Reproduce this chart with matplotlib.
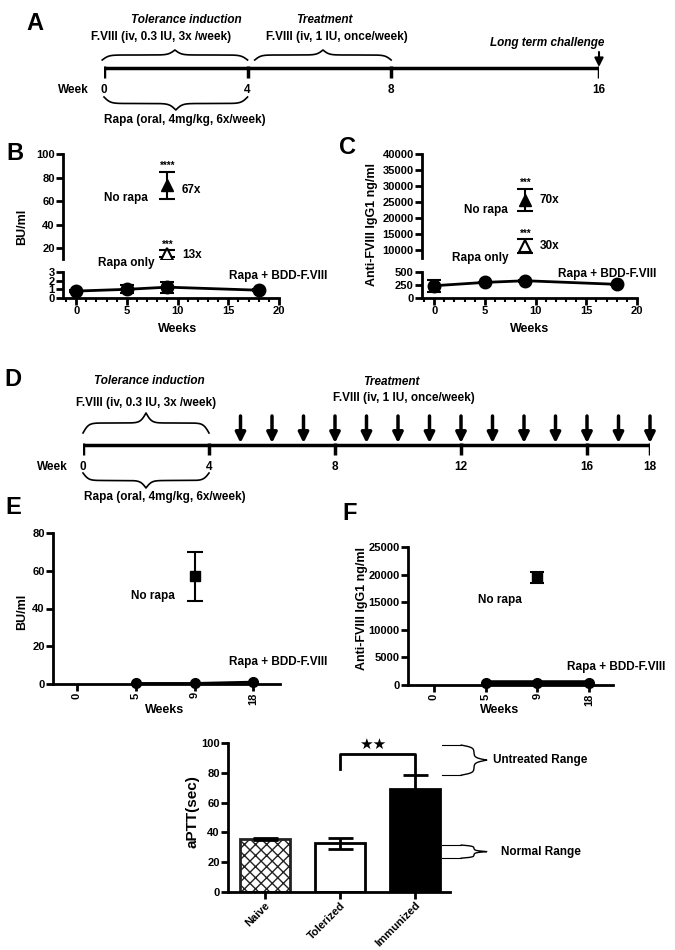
import numpy as np
import matplotlib.pyplot as plt
from matplotlib.ticker import MultipleLocator

W, H = 675, 950

# ---- data ----
# A: first protocol timeline (weeks)
a_ticks = [0, 4, 8, 16]
# D: second protocol timeline, weekly F.VIII doses from week 5
d_ticks = [0, 4, 8, 12, 16, 18]
d_doses = [5, 6, 7, 8, 9, 10, 11, 12, 13, 14, 15, 16, 17, 18]

# B: inhibitor titers (BU/ml)
b_weeks = [0, 5, 9, 18]
b_combo = [0.8, 1.0, 1.25, 0.9]
b_combo_err = [0.12, 0.45, 0.65, 0.1]
b_norapa, b_norapa_err = 73.5, 11.5
b_rapaonly, b_rapaonly_err = 15.5, 3.0

# C: anti-FVIII IgG1 (ng/ml)
c_weeks = [0, 5, 9, 18]
c_combo = [236, 300, 332, 263]
c_combo_err = [118, 15, 15, 12]
c_norapa, c_norapa_err = 25700, 3400
c_rapaonly, c_rapaonly_err = 11200, 2200

# E / F: second protocol
ef_weeks = ['0', '5', '9', '18']
ef_combo_weeks = ['5', '9', '18']
e_combo = [0.3, 0.3, 1.0]
e_norapa, e_norapa_err = 57, 13
f_combo = [350, 350, 350]
f_norapa, f_norapa_err = 19500, 1000

# G: aPTT (sec)
g_groups = ['Naive', 'Tolerized', 'Immunized']
g_mean = [35.5, 32.6, 69.0]
g_err = [0.7, 3.9, 9.4]
g_untreated = (78.4, 98.6)
g_normal = (22.7, 31.5)

NARROW = ['Liberation Sans Narrow', 'Liberation Sans', 'DejaVu Sans']
plt.rcParams['font.family'] = NARROW
plt.rcParams['font.weight'] = 'bold'
plt.rcParams['axes.labelweight'] = 'bold'
plt.rcParams['axes.linewidth'] = 2
plt.rcParams['hatch.linewidth'] = 1.0

FS = 8.5  # annotation text size

fig = plt.figure(figsize=(6.75, 9.5), dpi=100)


def px_axes(l, t, r, b):
    return fig.add_axes([l / W, 1 - b / H, (r - l) / W, (b - t) / H])


def fig_text(x, y, s, **kw):
    fig.text(x / W, 1 - y / H, s, **kw)


def brace(ax, a0, a1, base, h, k=45, vertical=False, lw=1.2):
    # curly brace drawn from two sigmoids: ends at base, tip at base + h
    t = np.linspace(0, 0.5, 200)
    half = 1 / (1 + np.exp(-k * t)) + 1 / (1 + np.exp(-k * (t - 0.5)))
    shape = np.concatenate([half, half[-2::-1]]) - 0.5
    run = np.linspace(a0, a1, shape.size)
    off = base + h * shape
    if vertical:
        ax.plot(off, run, color='k', lw=lw, clip_on=False)
    else:
        ax.plot(run, off, color='k', lw=lw, clip_on=False)


def style(ax, size=8):
    ax.spines[['top', 'right']].set_visible(False)
    ax.tick_params(direction='out', width=2, length=5, labelsize=size, pad=1)
    for lab in ax.get_xticklabels() + ax.get_yticklabels():
        lab.set_fontweight('bold')


def panel_letter(x, y, s):
    fig_text(x, y, s, fontsize=17, fontweight='bold', ha='center', va='center',
             family=['Liberation Sans', 'DejaVu Sans'])


ARROW = dict(arrowstyle='-|>', color='k', lw=2.5, mutation_scale=15, shrinkA=0, shrinkB=0)

# ---------------- A: timeline ----------------
late = 0.724


def a_fwd(w):
    w = np.asarray(w, dtype=float)
    return np.where(w <= 8, w, 8 + (w - 8) * late)


def a_inv(u):
    u = np.asarray(u, dtype=float)
    return np.where(u <= 8, u, 8 + (u - 8) / late)


axA = px_axes(104, 0, 599, 130)
axA.set_xscale('function', functions=(a_fwd, a_inv))
axA.set_xlim(0, 16)
axA.set_ylim(130, 0)
axA.axis('off')
axA.plot([a_ticks[0], a_ticks[-1]], [68, 68], color='k', lw=2.5, solid_capstyle='butt')
axA.vlines(a_ticks, 66, 78, color='k', lw=2.5)
for w in a_ticks:
    axA.text(w, 90, str(w), ha='center', va='center', fontsize=FS)
axA.text(-0.42, 90, 'Week', ha='right', va='center', fontsize=FS)
brace(axA, -0.05, 4.0, 60, -10)
brace(axA, 4.2, 8.0, 60, -10)
brace(axA, 0.0, 4.0, 97, 13)
axA.text(2.3, 20, 'Tolerance induction', ha='center', va='center', fontsize=FS, style='italic')
axA.text(1.6, 37, 'F.VIII (iv, 0.3 IU, 3x /week)', ha='center', va='center', fontsize=FS)
axA.text(6.13, 20, 'Treatment', ha='center', va='center', fontsize=FS, style='italic')
axA.text(6.5, 37, 'F.VIII (iv, 1 IU, once/week)', ha='center', va='center', fontsize=FS)
axA.text(14.0, 43, 'Long term challenge', ha='center', va='center', fontsize=FS, style='italic')
axA.annotate('', xy=(16, 67), xytext=(16, 52),
             arrowprops=dict(arrowstyle='-|>', color='k', lw=1.5, mutation_scale=13,
                             shrinkA=0, shrinkB=0))
axA.text(2.25, 120, 'Rapa (oral, 4mg/kg, 6x/week)', ha='center', va='center', fontsize=FS)
panel_letter(35, 24, 'A')

# ---------------- B: BU/ml (broken axis) ----------------
bU = px_axes(63, 154, 279, 259)
bL = px_axes(63, 272, 279, 298)
for ax in (bU, bL):
    ax.set_xlim(-1.3, 20)
bU.set_ylim(11, 100)
bU.set_yticks([20, 40, 60, 80, 100])
bU.spines['bottom'].set_visible(False)
bU.set_xticks([])
bL.set_ylim(0, 3)
bL.set_yticks([0, 1, 2, 3])
bL.set_xticks([0, 5, 10, 15, 20])
bL.xaxis.set_minor_locator(MultipleLocator(1))
bL.tick_params(axis='x', which='minor', width=1.5, length=3, direction='out')
style(bU)
style(bL)
bL.errorbar(b_weeks, b_combo, yerr=b_combo_err, fmt='-o', color='k', ms=9, lw=2,
            capsize=5, elinewidth=1.5, capthick=1.5, clip_on=False)
bU.errorbar([9], [b_norapa], yerr=[b_norapa_err], fmt='^', color='k', ms=8,
            capsize=6, elinewidth=1.5, capthick=1.5)
bU.errorbar([9], [b_rapaonly], yerr=[b_rapaonly_err], fmt='^', color='k', ms=8,
            mfc='white', mew=1.5, capsize=6, elinewidth=1.5, capthick=1.5)
bU.text(9, b_norapa + b_norapa_err + 0.5, '****', ha='center', va='bottom', fontsize=7)
bU.text(9, b_rapaonly + b_rapaonly_err + 0.5, '***', ha='center', va='bottom', fontsize=7)
bU.text(10.4, 69.4, '67x', va='center', fontsize=FS)
bU.text(10.5, 14, '13x', va='center', fontsize=FS)
bU.text(4.9, 62.5, 'No rapa', ha='center', va='center', fontsize=FS)
bU.text(4.9, 7.2, 'Rapa only', ha='center', va='center', fontsize=FS)
bL.text(15.1, 2.5, 'Rapa + BDD-F.VIII', ha='left', va='center', fontsize=FS)
fig_text(22, 227, 'BU/ml', rotation=90, ha='center', va='center', fontsize=9)
fig_text(178, 329, 'Weeks', ha='center', va='center', fontsize=9)
panel_letter(15, 154, 'B')

# ---------------- C: IgG1 (broken axis) ----------------
cU = px_axes(422, 154, 637, 258)
cL = px_axes(422, 272, 637, 298)
for ax in (cU, cL):
    ax.set_xlim(-1.2, 20)
cU.set_ylim(7500, 40000)
cU.set_yticks(np.arange(10000, 40001, 5000))
cU.spines['bottom'].set_visible(False)
cU.set_xticks([])
cL.set_ylim(0, 500)
cL.set_yticks([0, 250, 500])
cL.set_xticks([0, 5, 10, 15, 20])
cL.xaxis.set_minor_locator(MultipleLocator(1))
cL.tick_params(axis='x', which='minor', width=1.5, length=3, direction='out')
style(cU)
style(cL)
cL.errorbar(c_weeks, c_combo, yerr=c_combo_err, fmt='-o', color='k', ms=9, lw=2,
            capsize=5, elinewidth=1.5, capthick=1.5, clip_on=False)
cU.errorbar([9], [c_norapa], yerr=[c_norapa_err], fmt='^', color='k', ms=8,
            capsize=6, elinewidth=1.5, capthick=1.5)
cU.errorbar([9], [c_rapaonly], yerr=[c_rapaonly_err], fmt='^', color='k', ms=8,
            mfc='white', mew=1.5, capsize=6, elinewidth=1.5, capthick=1.5)
cU.text(9, c_norapa + c_norapa_err + 200, '***', ha='center', va='bottom', fontsize=7)
cU.text(9, c_rapaonly + c_rapaonly_err + 200, '***', ha='center', va='bottom', fontsize=7)
cU.text(10.4, 25500, '70x', va='center', fontsize=FS)
cU.text(10.4, 11200, '30x', va='center', fontsize=FS)
cU.text(5.1, 22500, 'No rapa', ha='center', va='center', fontsize=FS)
cU.text(4.5, 7600, 'Rapa only', ha='center', va='center', fontsize=FS)
cL.text(12.2, 470, 'Rapa + BDD-F.VIII', ha='left', va='center', fontsize=FS)
fig_text(372, 225, 'Anti-FVIII IgG1 ng/ml', rotation=90, ha='center', va='center', fontsize=9)
fig_text(530, 329, 'Weeks', ha='center', va='center', fontsize=9)
panel_letter(347, 148, 'C')

# ---------------- D: timeline ----------------
axD = px_axes(83, 360, 650, 520)
axD.set_xlim(0, 18)
axD.set_ylim(520, 360)
axD.axis('off')
axD.plot([d_ticks[0], d_ticks[-1]], [445, 445], color='k', lw=2.5, solid_capstyle='butt')
axD.vlines(d_ticks, 443, 455, color='k', lw=2.5)
for w in d_ticks:
    axD.text(w, 467, str(w), ha='center', va='center', fontsize=FS)
axD.text(-0.48, 467, 'Week', ha='right', va='center', fontsize=FS)
for w in d_doses:
    axD.annotate('', xy=(w, 443), xytext=(w, 416), arrowprops=ARROW)
brace(axD, 0.0, 4.0, 433, -20)
brace(axD, 0.0, 4.0, 473, 15)
axD.text(2.1, 381, 'Tolerance induction', ha='center', va='center', fontsize=FS, style='italic')
axD.text(2.0, 403, 'F.VIII (iv, 0.3 IU, 3x /week)', ha='center', va='center', fontsize=FS)
axD.text(9.8, 382, 'Treatment', ha='center', va='center', fontsize=FS, style='italic')
axD.text(10.2, 398, 'F.VIII (iv, 1 IU, once/week)', ha='center', va='center', fontsize=FS)
axD.text(2.6, 497, 'Rapa (oral, 4mg/kg, 6x/week)', ha='center', va='center', fontsize=FS)
panel_letter(13, 380, 'D')

# ---------------- E ----------------
axE = px_axes(53, 533, 280, 684)
axE.set_xlim(-0.4, 3.45)
axE.set_ylim(0, 80)
axE.set_yticks([0, 20, 40, 60, 80])
axE.set_xticks(range(len(ef_weeks)))
axE.set_xticklabels(ef_weeks, rotation=90)
style(axE)
e_pos = [ef_weeks.index(w) for w in ef_combo_weeks]
axE.plot(e_pos, e_combo, '-o', color='k', ms=7, lw=2, clip_on=False)
axE.errorbar([ef_weeks.index('9')], [e_norapa], yerr=[e_norapa_err], fmt='s', color='k',
             ms=7, capsize=6, elinewidth=1.5, capthick=1.5)
axE.text(1.29, 46.6, 'No rapa', ha='center', va='center', fontsize=FS)
axE.text(2.59, 11.8, 'Rapa + BDD-F.VIII', ha='left', va='center', fontsize=FS)
fig_text(22, 612, 'BU/ml', rotation=90, ha='center', va='center', fontsize=9)
fig_text(165, 710, 'Weeks', ha='center', va='center', fontsize=9)
panel_letter(13, 508, 'E')

# ---------------- F ----------------
axF = px_axes(408, 547, 613, 685)
axF.set_xlim(-0.5, 3.46)
axF.set_ylim(0, 25000)
axF.set_yticks(np.arange(0, 25001, 5000))
axF.set_xticks(range(len(ef_weeks)))
axF.set_xticklabels(ef_weeks, rotation=90)
style(axF)
axF.plot(e_pos, f_combo, '-o', color='k', ms=7, lw=4, clip_on=False)
axF.errorbar([ef_weeks.index('9')], [f_norapa], yerr=[f_norapa_err], fmt='s', color='k',
             ms=7, capsize=5, elinewidth=1.5, capthick=1.5)
axF.text(1.28, 15400, 'No rapa', ha='center', va='center', fontsize=FS)
axF.text(2.57, 3300, 'Rapa + BDD-F.VIII', ha='left', va='center', fontsize=FS)
fig_text(362, 608, 'Anti-FVIII IgG1 ng/ml', rotation=90, ha='center', va='center', fontsize=9)
fig_text(500, 710, 'Weeks', ha='center', va='center', fontsize=9)
panel_letter(350, 514, 'F')

# ---------------- G: aPTT bars ----------------
axG = px_axes(228, 743, 450, 892)
axG.set_xlim(-0.49, 2.47)
axG.set_ylim(0, 100)
axG.set_yticks([0, 20, 40, 60, 80, 100])
xg = np.arange(len(g_groups))
bars = axG.bar(xg, g_mean, width=0.667, color=['white', 'white', 'black'],
               edgecolor='k', linewidth=2, zorder=2)
bars[0].set_hatch('xxx')
bars[0].set_edgecolor('#222222')
axG.errorbar(xg, g_mean, yerr=g_err, fmt='none', ecolor='k', capsize=9,
             elinewidth=2, capthick=2, zorder=3)
axG.set_xticks(xg)
axG.set_xticklabels(g_groups, rotation=45, ha='right', rotation_mode='anchor')
style(axG, size=8)
# significance bracket Tolerized vs Immunized
top = 92.5
axG.plot([1, 1, 2, 2], [82.4, top, top, g_mean[2] + g_err[2]], color='k', lw=2)
axG.text(1.44, 99, '\u2605\u2605', ha='center', va='center', fontsize=11,
         family=['DejaVu Sans'])
# reference ranges at the right
for (lo, hi), label, lx in ((g_untreated, 'Untreated Range', 3.04),
                            (g_normal, 'Normal Range', 3.15)):
    axG.plot([2.36, 2.62], [hi, hi], color='k', lw=0.8, clip_on=False)
    axG.plot([2.36, 2.62], [lo, lo], color='k', lw=0.8, clip_on=False)
    brace(axG, lo, hi, 2.62, 0.34, k=25, vertical=True, lw=1.0)
    axG.text(lx, (lo + hi) / 2, label, ha='left', va='center', fontsize=FS)
fig_text(193, 812, 'aPTT(sec)', rotation=90, ha='center', va='center', fontsize=11)

fig.savefig('out.png', dpi=100)
